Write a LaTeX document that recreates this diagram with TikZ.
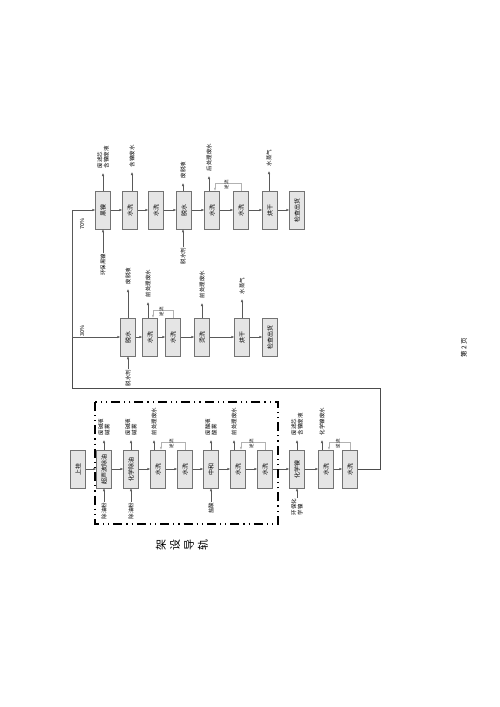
\documentclass[tikz,border=0pt]{standalone}
\usepackage{fontspec}
\setmainfont{Noto Sans CJK SC}
\usetikzlibrary{arrows.meta,calc}

\begin{document}
\begin{tikzpicture}[x=1pt, y=-1pt,
  box/.style  = {draw=black!55, fill=black!10, rotate=90, minimum width=38pt,
                 minimum height=15pt, inner sep=0.5pt, font=\fontsize{6}{7}\selectfont},
  tag/.style  = {rotate=90, inner sep=0.5pt, align=left, font=\fontsize{5.5}{6.5}\selectfont},
  arr/.style  = {-{Latex[length=3pt,width=2.4pt]}, black!65, thin},
  cf/.style   = {arr, black!30},
  line/.style = {black!70, thin},
  rail/.style = {line width=1.3pt, dash pattern=on 9pt off 4pt on 1.2pt off 4pt on 1.2pt off 4pt}]

\useasboundingbox (0,0) rectangle (500,707);

% pretreatment row
\foreach \i/\p/\t in {1/78/上挂, 2/104/超声波除油, 3/131/化学除油, 4/158/水洗, 5/185/水洗,
                      6/211/中和, 7/238/水洗, 8/265/水洗, 9/297/化学镍, 10/326/水洗, 11/350/水洗}
  \node[box] (a\i) at (\p,469) {\t};
\foreach \i [count=\j from 2] in {1,...,10} \draw[arr] (a\i) -- (a\j);

% 30% branch
\foreach \i/\p/\t in {1/128/脱水, 2/150/水洗, 3/173/水洗, 4/202/烫洗, 5/242/烘干, 6/270/检查出货}
  \node[box] (b\i) at (\p,337) {\t};
\foreach \i [count=\j from 2] in {1,...,5} \draw[arr] (b\i) -- (b\j);

% 70% branch
\foreach \i/\p/\t in {1/103/黑镍, 2/130/水洗, 3/156/水洗, 4/184/脱水, 5/212/水洗, 6/241/水洗,
                      7/270/烘干, 8/297/检查出货}
  \node[box] (c\i) at (\p,210) {\t};
\foreach \i [count=\j from 2] in {1,...,7} \draw[arr] (c\i) -- (c\j);

% return line and split
\coordinate (r1) at (380,388);
\coordinate (r2) at (72,388);
\coordinate (split) at (72,337);
\draw[line] (a11) -| (r1) -- (r2) -- (split);
\draw[arr] (split) -- (b1);
\draw[arr] (split) |- (c1);
\node[tag] (p30) at (82,331) {30\%};
\node[tag] (p70) at (82,224) {70\%};

% waste outputs
\foreach \n/\p/\q/\t in {a2/104/436/{废碱液\\碱雾}, a3/131/436/{废碱液\\碱雾}, a4/154/436/前处理废水,
                         a6/211/436/{废酸液\\酸雾}, a7/234/436/前处理废水,
                         a9/297/436/{废滤芯\\含镍废液}, a10/322/436/化学镍废水,
                         b1/128/285/废脱液, b2/148/298/前处理废水, b4/202/299/前处理废水,
                         b5/242/295/水蒸气,
                         c1/103/169/{废滤芯\\含镍废液}, c2/132/168/含镍废水, c4/183/179/废脱液,
                         c5/209/172/后处理废水, c7/269/167/水蒸气} {
  \node[tag, anchor=west] (o-\n) at (\p,\q) {\t};
  \draw[arr, shorten >=4pt] (o-\n.west |- \n.east) -- (o-\n.west);
}

% material inputs
\foreach \n/\p/\q/\t in {a2/104/502/除油粉, a3/131/502/除油粉, a6/211/502/盐酸,
                         a9/297/498/{环保化\\学镍}, b1/128/369/脱水剂,
                         c1/103/253/环保黑镍, c4/183/247/脱水剂} {
  \node[tag, anchor=east] (i-\n) at (\p,\q) {\t};
  \draw[arr] (i-\n.east) -- (i-\n.east |- \n.west);
}

% counterflow rinses
\foreach \u/\v in {a5/a4, a8/a7, a11/a10, b3/b2, c6/c5} {
  \draw[cf] (\u.east) -- ++(0,-8) -| ($(\v.east)+(3,0)$);
  \node[tag, font=\fontsize{4.5}{5}\selectfont, anchor=west] (n-\u) at ($(\u.east)!0.5!(\v.east)+(0,-1)$) {逆流};
}

% rack frame
\draw[rail] (95,402) rectangle (278,524);
\node[rotate=90, align=center, font=\fontsize{11}{14}\selectfont] (guide) at (182,545) {架\\设\\导\\轨};

\node[tag, font=\fontsize{6.5}{8}\selectfont] (pg) at (464,348) {第 2 页};
\end{tikzpicture}
\end{document}
